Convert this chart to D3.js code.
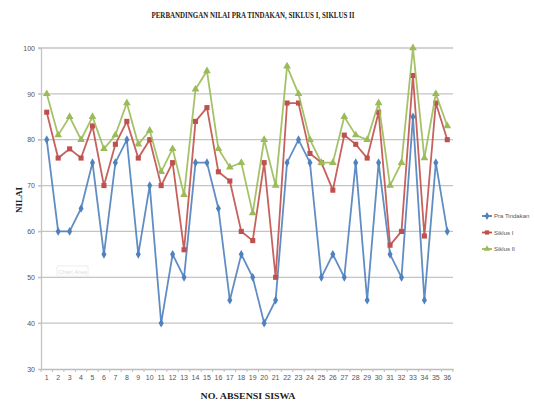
<!DOCTYPE html>
<html>
<head>
<meta charset="utf-8">
<script src="https://d3js.org/d3.v7.min.js"></script>
<style>
  html, body { margin: 0; background: #fff; }
  svg { display: block; }
  .tick text { font-family: "Liberation Sans", Arial, sans-serif; font-size: 7px; fill: #555; }
</style>
</head>
<body>
<svg id="chart" width="534" height="403"></svg>
<script>
// data
const students = d3.range(1, 37);
const praTindakan = [80,60,60,65,75,55,75,80,55,70,40,55,50,75,75,65,45,55,50,40,45,75,80,75,50,55,50,75,45,75,55,50,85,45,75,60];
const siklus1 = [86,76,78,76,83,70,79,84,76,80,70,75,56,84,87,73,71,60,58,75,50,88,88,77,75,69,81,79,76,86,57,60,94,59,88,80];
const siklus2 = [90,81,85,80,85,78,81,88,79,82,73,78,68,91,95,78,74,75,64,80,70,96,90,80,75,75,85,81,80,88,70,75,100,76,90,83];
const yTicks = [30,40,50,60,70,80,90,100];

const series = [
  {name: "Pra Tindakan", values: praTindakan, color: "#4F81BD", marker: d3.symbolDiamond},
  {name: "Siklus I", values: siklus1, color: "#C0504D", marker: d3.symbolSquare},
  {name: "Siklus II", values: siklus2, color: "#9BBB59", marker: d3.symbolTriangle}
];

const svg = d3.select("#chart");
const plotLeft = 41, plotRight = 453, plotTop = 48, plotBottom = 369;

const x = d3.scaleBand().domain(students).range([plotLeft, plotRight]);
const y = d3.scaleLinear().domain([30, 100]).range([plotBottom, plotTop]);

// gridlines
svg.append("g")
  .selectAll("line")
  .data(yTicks.filter(d => d > 30))
  .join("line")
  .attr("x1", plotLeft - 3).attr("x2", plotRight)
  .attr("y1", d => y(d)).attr("y2", d => y(d))
  .attr("stroke", "#c4c4c4").attr("stroke-width", 1.3);

// y axis
const yAxis = svg.append("g")
  .attr("transform", `translate(${plotLeft},0)`)
  .call(d3.axisLeft(y).tickValues(yTicks).tickSize(3).tickPadding(3));
yAxis.selectAll("line").attr("stroke", "#c4c4c4");
yAxis.select(".domain").attr("stroke", "#c4c4c4").attr("stroke-width", 1.3);

// x axis, ticks between categories
const xAxis = svg.append("g")
  .attr("transform", `translate(0,${plotBottom})`)
  .call(d3.axisBottom(x).tickSize(0).tickPadding(6));
xAxis.select(".domain").attr("stroke", "#bdbdbd").attr("stroke-width", 1.3);
xAxis.selectAll(".sep")
  .data(d3.range(0, 37))
  .join("line")
  .attr("class", "sep")
  .attr("x1", d => plotLeft + d * x.step()).attr("x2", d => plotLeft + d * x.step())
  .attr("y1", 0).attr("y2", 3)
  .attr("stroke", "#bdbdbd");

// faint "Chart Area" tooltip leftover
svg.append("rect").attr("x", 57).attr("y", 266).attr("width", 31).attr("height", 10)
  .attr("fill", "none").attr("stroke", "#eee");
svg.append("text").attr("x", 72.5).attr("y", 274).attr("text-anchor", "middle")
  .attr("font-family", "Liberation Sans, sans-serif").attr("font-size", 6).attr("fill", "#ddd")
  .text("Chart Area");

// lines and markers
const line = d3.line().x((d, i) => x(students[i]) + x.bandwidth() / 2).y(d => y(d));
series.forEach(s => {
  svg.append("path")
    .datum(s.values)
    .attr("fill", "none")
    .attr("stroke", s.color)
    .attr("stroke-width", 1.8)
    .attr("stroke-opacity", 0.9)
    .attr("d", line);
  svg.append("g")
    .selectAll("path")
    .data(s.values)
    .join("path")
    .attr("transform", (d, i) => `translate(${x(students[i]) + x.bandwidth() / 2},${y(d)})`)
    .attr("d", d3.symbol(s.marker, s.marker === d3.symbolDiamond ? 22 : 26))
    .attr("fill", s.color);
});

// title
svg.append("text")
  .attr("x", 253).attr("y", 18)
  .attr("text-anchor", "middle")
  .attr("font-family", "Liberation Serif, serif")
  .attr("font-weight", "bold").attr("font-size", 9).attr("fill", "#222")
  .attr("textLength", 203).attr("lengthAdjust", "spacingAndGlyphs")
  .text("PERBANDINGAN NILAI PRA TINDAKAN, SIKLUS I, SIKLUS II");

// axis titles
svg.append("text")
  .attr("x", 248).attr("y", 399)
  .attr("text-anchor", "middle")
  .attr("font-family", "Liberation Serif, serif")
  .attr("font-weight", "bold").attr("font-size", 8).attr("fill", "#222")
  .attr("textLength", 95).attr("lengthAdjust", "spacingAndGlyphs")
  .text("NO. ABSENSI SISWA");

svg.append("text")
  .attr("transform", "translate(22,200) rotate(-90)")
  .attr("text-anchor", "middle")
  .attr("font-family", "Liberation Serif, serif")
  .attr("font-weight", "bold").attr("font-size", 9).attr("fill", "#222")
  .text("NILAI");

// legend
const legend = svg.append("g").attr("transform", "translate(482,216)");
series.forEach((s, i) => {
  const g = legend.append("g").attr("transform", `translate(0,${i * 16.5})`);
  g.append("line").attr("x1", 0).attr("x2", 10).attr("stroke", s.color).attr("stroke-width", 1.8);
  g.append("path").attr("transform", "translate(5,0)")
    .attr("d", d3.symbol(s.marker, 18)).attr("fill", s.color);
  g.append("text").attr("x", 12).attr("y", 2.2)
    .attr("font-family", "Liberation Sans, sans-serif").attr("font-size", 6).attr("fill", "#555")
    .text(s.name);
});
</script>
</body>
</html>
